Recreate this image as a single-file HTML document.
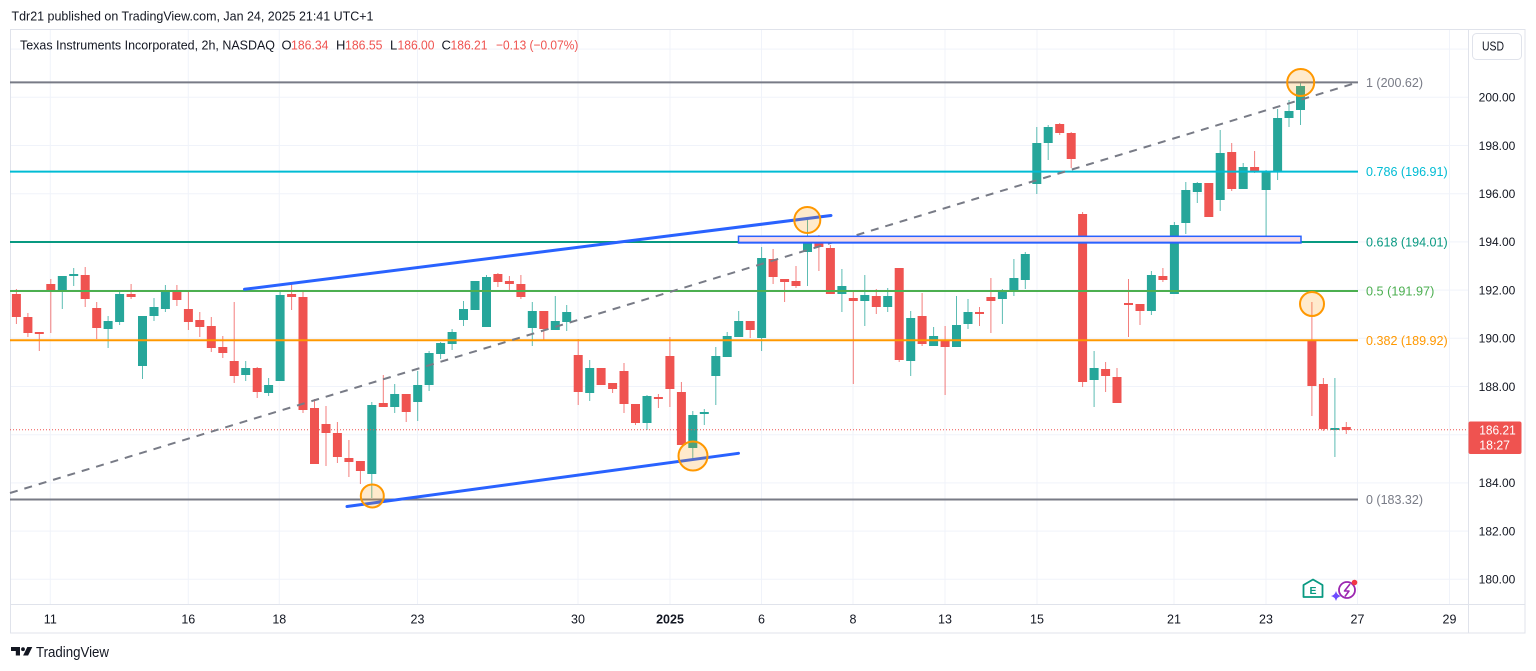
<!DOCTYPE html>
<html><head><meta charset="utf-8"><style>
html,body{margin:0;padding:0;background:#fff;}
svg{display:block;}
text{font-family:"Liberation Sans",sans-serif;}
</style></head><body>
<svg width="1536" height="671" viewBox="0 0 1536 671" xmlns="http://www.w3.org/2000/svg">
<rect width="1536" height="671" fill="#fff"/>
<!-- header -->
<text x="11.5" y="20.6" font-size="13" fill="#131722" textLength="362" lengthAdjust="spacingAndGlyphs">Tdr21 published on TradingView.com, Jan 24, 2025 21:41 UTC+1</text>

<!-- gridlines -->
<g stroke="#f0f3fa" stroke-width="1">
<path d="M10 49.1H1468M10 97.3H1468M10 145.5H1468M10 193.7H1468M10 241.9H1468M10 290.1H1468M10 338.3H1468M10 386.5H1468M10 434.7H1468M10 482.9H1468M10 531.1H1468M10 579.3H1468"/>
<path d="M50.3 30V604M188.3 30V604M279.3 30V604M417.5 30V604M578 30V604M670 30V604M761.5 30V604M853 30V604M945 30V604M1037 30V604M1174 30V604M1266 30V604M1357.5 30V604M1449.5 30V604"/>
</g>

<!-- frame -->
<rect x="10.5" y="29.5" width="1514.5" height="603.5" fill="none" stroke="#e0e3eb"/>
<line x1="1468.5" y1="29.5" x2="1468.5" y2="633" stroke="#e0e3eb"/>
<line x1="10.5" y1="604.5" x2="1525" y2="604.5" stroke="#e0e3eb"/>

<!-- legend -->
<g font-size="13">
<text x="20" y="49.6" fill="#131722" textLength="255" lengthAdjust="spacingAndGlyphs">Texas Instruments Incorporated, 2h, NASDAQ</text>
<text x="281.5" y="49.6" fill="#131722">O</text>
<text x="291" y="49.6" fill="#ef5350" textLength="37.5" lengthAdjust="spacingAndGlyphs">186.34</text>
<text x="336" y="49.6" fill="#131722">H</text>
<text x="345" y="49.6" fill="#ef5350" textLength="37.5" lengthAdjust="spacingAndGlyphs">186.55</text>
<text x="390" y="49.6" fill="#131722">L</text>
<text x="397.5" y="49.6" fill="#ef5350" textLength="37" lengthAdjust="spacingAndGlyphs">186.00</text>
<text x="441.5" y="49.6" fill="#131722">C</text>
<text x="450.5" y="49.6" fill="#ef5350" textLength="37" lengthAdjust="spacingAndGlyphs">186.21</text>
<text x="496" y="49.6" fill="#ef5350" textLength="82.3" lengthAdjust="spacingAndGlyphs">−0.13 (−0.07%)</text>
</g>

<!-- wicks -->
<path fill="none" stroke="#ef5350" stroke-opacity="0.75" stroke-width="1" d="M16.4 289V324 M27.9 313V337 M39.3 332V351 M50.8 279V333 M85.2 267V307 M96.7 302V339 M131.1 284V299 M176.9 285V306 M188.4 292V330 M199.8 312V337 M211.3 317V352 M222.8 336V358 M234.2 302V383 M257.2 367V398 M291.6 282V310 M303 290V413 M314.5 399V464 M326 406V466 M337.4 422V463 M348.9 440V477 M360.4 461V484 M383.3 375V407 M406.2 394V422 M497.9 273V287 M509.4 276V290 M520.9 275V299 M543.8 311V340 M578.2 339V405 M601.1 368V385 M612.6 383V393 M624 363V413 M635.5 404V425 M658.4 394V408 M669.9 337V407 M681.4 382V445 M750.2 321V338 M773.1 249V284 M784.6 279V302 M796 266V288 M818.9 235V271 M830.4 245V294 M853.3 292V384 M876.3 289V314 M899.2 268V362 M922.1 293V346 M945.1 326V395 M979.5 307V326 M990.9 278V333 M1059.7 123V135 M1071.2 132V168 M1082.6 212V387 M1105.6 362V392 M1117 368V403 M1128.5 279V337 M1140 304V325 M1162.9 268V282 M1208.8 183V217 M1231.7 143V191 M1254.6 151V173 M1311.9 302V416 M1323.4 378V431 M1346.3 422V434"/>
<path fill="none" stroke="#26a69a" stroke-opacity="0.75" stroke-width="1" d="M62.3 276V309 M73.7 268V286 M108.1 316V348 M119.6 292V325 M142.5 316V379 M154 298V321 M165.4 285V312 M245.7 361V381 M268.6 378V396 M280.1 292V381 M371.8 402V498 M394.7 384V413 M417.7 371V421 M429.1 351V391 M440.6 342V359 M452.1 329V350 M463.5 301V326 M475 281V310 M486.5 275V327 M532.3 302V346 M555.3 296V330 M566.7 305V331 M589.7 360V401 M647 395V430 M692.8 411V459 M704.3 409V425 M715.8 347V405 M727.2 332V357 M738.7 311V337 M761.6 247V351 M807.5 218V286 M841.9 269V312 M864.8 275V326 M887.7 288V312 M910.7 311V376 M933.6 327V346 M956.5 296V347 M968 299V329 M1002.4 289V324 M1013.9 259V296 M1025.3 252V289 M1036.8 127V194 M1048.2 125V160 M1094.1 351V407 M1151.4 271V315 M1174.4 222V294 M1185.8 182V234 M1197.3 182V203 M1220.2 130V211 M1243.2 163V189 M1266.1 170V243 M1277.6 109V180 M1289 100V127 M1300.5 82V125 M1334.9 378V457"/>

<!-- bodies -->
<path fill="#ef5350" d="M11.9 294h9v23h-9z M23.4 317h9v16h-9z M34.8 332h9v2h-9z M46.3 284h9v7h-9z M80.7 275h9v24h-9z M92.2 308h9v20h-9z M126.6 294h9v3h-9z M172.4 292h9v8h-9z M183.9 309h9v13h-9z M195.3 320h9v7h-9z M206.8 326h9v22h-9z M218.3 347h9v6h-9z M229.7 361h9v15h-9z M252.7 368h9v24h-9z M287.1 294h9v3h-9z M298.5 297h9v113h-9z M310 408h9v56h-9z M321.5 424h9v9h-9z M332.9 433h9v24h-9z M344.4 458h9v4h-9z M355.9 461h9v10h-9z M378.8 403h9v4h-9z M401.7 394h9v18h-9z M493.4 274h9v8h-9z M504.9 281h9v3h-9z M516.4 284h9v13h-9z M539.3 311h9v18h-9z M573.7 355h9v37h-9z M596.6 368h9v17h-9z M608.1 383h9v6h-9z M619.5 371h9v33h-9z M631 404h9v19h-9z M653.9 397h9v2h-9z M665.4 356h9v33h-9z M676.9 392h9v53h-9z M745.7 321h9v9h-9z M768.6 259h9v18h-9z M780.1 279h9v3h-9z M791.5 281h9v5h-9z M814.4 236h9v11h-9z M825.9 248h9v46h-9z M848.8 298h9v3h-9z M871.8 296h9v11h-9z M894.7 268h9v92h-9z M917.6 316h9v28h-9z M940.6 341h9v6h-9z M975 312h9v2h-9z M986.4 297h9v4h-9z M1055.2 124h9v9h-9z M1066.7 133h9v26h-9z M1078.1 214h9v168h-9z M1101.1 369h9v7h-9z M1112.5 377h9v26h-9z M1124 303h9v2h-9z M1135.5 304h9v7h-9z M1158.4 276h9v4h-9z M1204.3 183h9v34h-9z M1227.2 152h9v37h-9z M1250.1 167h9v4h-9z M1307.4 340h9v46h-9z M1318.9 384h9v45h-9z M1341.8 427h9v3h-9z"/>
<path fill="#26a69a" d="M57.8 276h9v15h-9z M69.2 274h9v2h-9z M103.6 321h9v8h-9z M115.1 294h9v28h-9z M138 316h9v50h-9z M149.5 307h9v9h-9z M160.9 291h9v18h-9z M241.2 368h9v7h-9z M264.1 385h9v8h-9z M275.6 295h9v86h-9z M367.3 405h9v69h-9z M390.2 394h9v13h-9z M413.2 385h9v17h-9z M424.6 353h9v32h-9z M436.1 343h9v11h-9z M447.6 332h9v12h-9z M459 309h9v11h-9z M470.5 281h9v29h-9z M482 277h9v50h-9z M527.8 311h9v17h-9z M550.8 321h9v9h-9z M562.2 312h9v10h-9z M585.2 368h9v25h-9z M642.5 396h9v27h-9z M688.3 415h9v33h-9z M699.8 412h9v2h-9z M711.3 356h9v20h-9z M722.7 336h9v21h-9z M734.2 321h9v16h-9z M757.1 258h9v80h-9z M803 236h9v16h-9z M837.4 286h9v8h-9z M860.3 295h9v6h-9z M883.2 296h9v11h-9z M906.2 318h9v43h-9z M929.1 336h9v10h-9z M952 325h9v22h-9z M963.5 312h9v12h-9z M997.9 291h9v8h-9z M1009.4 278h9v13h-9z M1020.8 254h9v26h-9z M1032.3 143h9v41h-9z M1043.7 127h9v16h-9z M1089.6 368h9v12h-9z M1146.9 275h9v36h-9z M1169.9 225h9v69h-9z M1181.3 190h9v33h-9z M1192.8 183h9v9h-9z M1215.7 153h9v47h-9z M1238.7 167h9v22h-9z M1261.6 172h9v18h-9z M1273.1 118h9v54h-9z M1284.5 111h9v7h-9z M1296 86h9v24h-9z M1330.4 428h9v2h-9z"/>

<!-- current price dotted line -->
<line x1="10" y1="429.8" x2="1468" y2="429.8" stroke="#ef5350" stroke-width="1" stroke-dasharray="1 2"/>

<!-- fib levels -->
<g stroke-width="2" fill="none">
<line x1="10" y1="82.4" x2="1358" y2="82.4" stroke="#787b86"/>
<line x1="10" y1="171.6" x2="1358" y2="171.6" stroke="#00bcd4"/>
<line x1="10" y1="242" x2="1358" y2="242" stroke="#089981"/>
<line x1="10" y1="291" x2="1358" y2="291" stroke="#4caf50"/>
<line x1="10" y1="340.3" x2="1358" y2="340.3" stroke="#ff9800"/>
<line x1="10" y1="499.5" x2="1358" y2="499.5" stroke="#787b86"/>
</g>
<g font-size="12.5">
<text x="1366" y="86.9" fill="#787b86" textLength="57" lengthAdjust="spacingAndGlyphs">1 (200.62)</text>
<text x="1366" y="176.1" fill="#00bcd4" textLength="81.7" lengthAdjust="spacingAndGlyphs">0.786 (196.91)</text>
<text x="1366" y="246.5" fill="#089981" textLength="81.7" lengthAdjust="spacingAndGlyphs">0.618 (194.01)</text>
<text x="1366" y="295.5" fill="#4caf50" textLength="68.3" lengthAdjust="spacingAndGlyphs">0.5 (191.97)</text>
<text x="1366" y="344.8" fill="#ff9800" textLength="81.7" lengthAdjust="spacingAndGlyphs">0.382 (189.92)</text>
<text x="1366" y="504" fill="#787b86" textLength="57" lengthAdjust="spacingAndGlyphs">0 (183.32)</text>
</g>

<!-- dashed trend line -->
<line x1="10" y1="493" x2="1358" y2="82.3" stroke="#787b86" stroke-width="2" stroke-dasharray="8 7"/>

<!-- rectangle -->
<rect x="738.5" y="236.3" width="562.5" height="6.5" fill="#fbdde4" stroke="#2962ff" stroke-width="1.5"/>
<line x1="738" y1="242.6" x2="1301.5" y2="242.6" stroke="#2962ff" stroke-width="2"/>

<!-- blue trend lines -->
<line x1="244.5" y1="289.3" x2="831" y2="215.5" stroke="#2962ff" stroke-width="3" stroke-linecap="round"/>
<line x1="347" y1="506.5" x2="738.5" y2="453.3" stroke="#2962ff" stroke-width="3" stroke-linecap="round"/>

<!-- circles -->
<g fill="rgba(255,152,0,0.2)" stroke="#ff9800" stroke-width="2">
<circle cx="372.3" cy="496" r="11.5"/>
<circle cx="693" cy="456" r="14.5"/>
<circle cx="807.3" cy="220" r="13"/>
<circle cx="1312" cy="304" r="12"/>
<circle cx="1300.7" cy="82.5" r="13.5"/>
</g>

<!-- price axis -->
<rect x="1472.5" y="33.5" width="49" height="26" rx="4" fill="#fff" stroke="#e0e3eb"/>
<text x="1482" y="50.3" font-size="12.5" fill="#131722" textLength="22" lengthAdjust="spacingAndGlyphs">USD</text>
<g font-size="12" fill="#131722" text-anchor="middle">
<text x="1497" y="101.6">200.00</text>
<text x="1497" y="149.8">198.00</text>
<text x="1497" y="198">196.00</text>
<text x="1497" y="246.2">194.00</text>
<text x="1497" y="294.4">192.00</text>
<text x="1497" y="342.6">190.00</text>
<text x="1497" y="390.8">188.00</text>
<text x="1497" y="487.2">184.00</text>
<text x="1497" y="535.4">182.00</text>
<text x="1497" y="583.6">180.00</text>
</g>
<rect x="1468.5" y="421.5" width="53" height="32.5" rx="2" fill="#ef5350"/>
<text x="1479.3" y="434.4" font-size="12.5" fill="#fff" textLength="36.4" lengthAdjust="spacingAndGlyphs">186.21</text>
<text x="1479.3" y="449.7" font-size="12.5" fill="#fff" textLength="30.7" lengthAdjust="spacingAndGlyphs">18:27</text>

<!-- time axis -->
<g font-size="12.5" fill="#131722" text-anchor="middle">
<text x="50.3" y="623.6">11</text>
<text x="188.3" y="623.6">16</text>
<text x="279.3" y="623.6">18</text>
<text x="417.5" y="623.6">23</text>
<text x="578" y="623.6">30</text>
<text x="670" y="623.6" font-weight="bold">2025</text>
<text x="761.5" y="623.6">6</text>
<text x="853" y="623.6">8</text>
<text x="945" y="623.6">13</text>
<text x="1037" y="623.6">15</text>
<text x="1174" y="623.6">21</text>
<text x="1266" y="623.6">23</text>
<text x="1357.5" y="623.6">27</text>
<text x="1449.5" y="623.6">29</text>
</g>

<!-- icons -->
<path d="M1303.5 585 L1313 579.5 L1322.5 585 V597 H1303.5 Z" fill="#fff" stroke="#089981" stroke-width="1.8" stroke-linejoin="round"/>
<text x="1313" y="593.8" font-size="10.5" font-weight="bold" fill="#089981" text-anchor="middle">E</text>
<circle cx="1347" cy="590" r="8" fill="none" stroke="#9c27b0" stroke-width="1.8"/>
<path d="M1350 584 L1344.5 591 H1349 L1345 596.5" fill="none" stroke="#9c27b0" stroke-width="1.6" stroke-linejoin="round"/>
<path d="M1336 591 Q1337 595 1341 596 Q1337 597 1336 601 Q1335 597 1331 596 Q1335 595 1336 591Z" fill="#6d4cff"/>
<circle cx="1354.5" cy="582.5" r="2.8" fill="#f23645"/>

<!-- footer logo -->
<path d="M11 647h9v8.5h-4.2v-4.5H11z" fill="#131722"/>
<circle cx="23" cy="649.2" r="1.9" fill="#131722"/>
<path d="M27.3 647h5l-4.2 8.5h-5z" fill="#131722"/>
<text x="36" y="656.8" font-size="15" fill="#131722" textLength="73" lengthAdjust="spacingAndGlyphs">TradingView</text>
</svg>
</body></html>
